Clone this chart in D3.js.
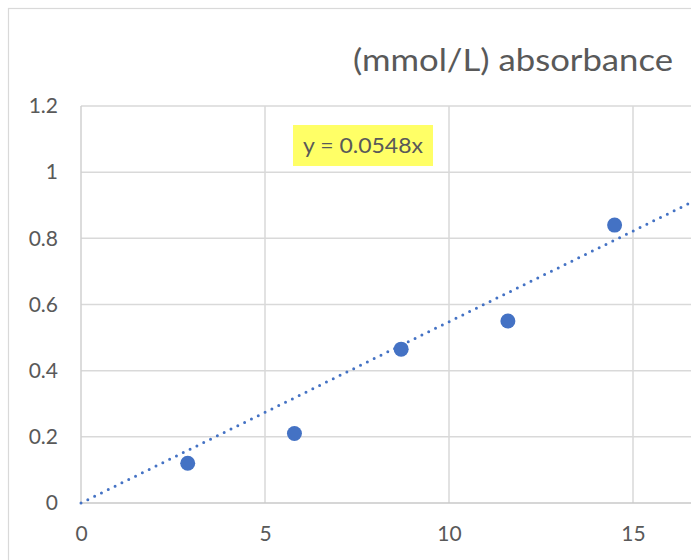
<!DOCTYPE html>
<html><head><meta charset="utf-8">
<script src="https://cdn.jsdelivr.net/npm/d3@7"></script>
<style>
html,body{margin:0;padding:0;background:#fff;overflow:hidden}
svg{display:block;font-family:Lato,"Open Sans","Noto Sans",sans-serif}
</style></head>
<body>
<svg id="c" width="691" height="560"></svg>
<script>
const concentration = [2.9, 5.8, 8.7, 11.6, 14.5];
const absorbance = [0.12, 0.21, 0.465, 0.55, 0.84];
const slope = 0.0548;
const xTicks = [0, 5, 10, 15];
const yTicks = [0, 0.2, 0.4, 0.6, 0.8, 1, 1.2];
const titleText = "(mmol/L) absorbance";
const equationText = "y = 0.0548x";

const svg = d3.select("#c");
const xMax = 20;
const x = d3.scaleLinear().domain([0, xMax]).range([81, 817]);
const y = d3.scaleLinear().domain([0, 1.2]).range([503, 106]);

// chart border
svg.append("rect").attr("x", 8.5).attr("y", 8.5).attr("width", 1000).attr("height", 1000)
  .attr("fill", "#fff").attr("stroke", "#d9d9d9").attr("stroke-width", 1.2);

// title
svg.append("text").attr("x", 513).attr("y", 71).attr("text-anchor", "middle")
  .attr("font-size", 30).attr("fill", "#595959")
  .attr("textLength", 320).attr("lengthAdjust", "spacingAndGlyphs").text(titleText);

// gridlines
const grid = svg.append("g");
grid.selectAll("line.h").data(yTicks.filter(d => d > 0)).join("line")
  .attr("x1", x(0)).attr("x2", x(xMax)).attr("y1", d => y(d)).attr("y2", d => y(d))
  .attr("stroke", "#d9d9d9").attr("stroke-width", 1.5);
grid.selectAll("line.v").data(d3.range(5, xMax + 1, 5)).join("line")
  .attr("x1", d => x(d)).attr("x2", d => x(d)).attr("y1", y(1.2)).attr("y2", y(0))
  .attr("stroke", "#d9d9d9").attr("stroke-width", 1.5);

// axes lines
svg.append("line").attr("x1", x(0)).attr("x2", x(0)).attr("y1", y(1.2)).attr("y2", y(0))
  .attr("stroke", "#d0d0d0").attr("stroke-width", 1.5);
svg.append("line").attr("x1", x(0)).attr("x2", x(xMax)).attr("y1", y(0)).attr("y2", y(0))
  .attr("stroke", "#c8c8c8").attr("stroke-width", 1.5);

// tick labels
const yAxis = d3.axisLeft(y).tickValues(yTicks).tickSize(0).tickPadding(0)
  .tickFormat(d => d3.format("~g")(d));
const gy = svg.append("g").attr("transform", "translate(58,0)").call(yAxis);
gy.select(".domain").remove();
gy.selectAll("text").attr("font-size", 21).attr("fill", "#595959")
  .attr("font-family", "Lato,'Open Sans',sans-serif");

const xAxis = d3.axisBottom(x).tickValues(xTicks).tickSize(0).tickPadding(0)
  .tickFormat(d3.format("d"));
const gx = svg.append("g").attr("transform", "translate(0,526)").call(xAxis);
gx.select(".domain").remove();
gx.selectAll("text").attr("font-size", 21).attr("fill", "#595959")
  .attr("font-family", "Lato,'Open Sans',sans-serif");

// trendline
svg.append("line").attr("x1", x(0)).attr("y1", y(0)).attr("x2", x(xMax)).attr("y2", y(slope * xMax))
  .attr("stroke", "#4472C4").attr("stroke-width", 3).attr("stroke-linecap", "round")
  .attr("stroke-dasharray", "0,7.6");

// points
svg.selectAll("circle.pt").data(concentration).join("circle")
  .attr("cx", d => x(d)).attr("cy", (d, i) => y(absorbance[i])).attr("r", 7.5)
  .attr("fill", "#4472C4");

// equation label
const eq = svg.append("g");
eq.append("rect").attr("x", 293).attr("y", 125).attr("width", 140).attr("height", 41)
  .attr("fill", "#ffff66");
eq.append("text").attr("x", 363).attr("y", 153).attr("text-anchor", "middle")
  .attr("font-size", 22).attr("fill", "#595959")
  .attr("textLength", 120).attr("lengthAdjust", "spacingAndGlyphs").text(equationText);
</script>
</body></html>
